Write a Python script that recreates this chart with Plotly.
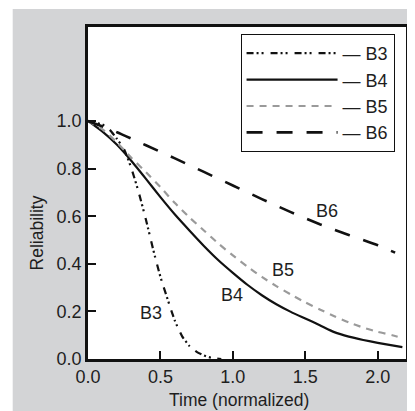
import plotly.graph_objects as go

# ---- data ----
b3_x = [0.0, 0.1, 0.15, 0.2, 0.25, 0.3, 0.35, 0.4, 0.45, 0.5, 0.55, 0.6, 0.65, 0.7, 0.75, 0.8, 0.85, 0.92]
b3_y = [1.0, 0.985, 0.963, 0.925, 0.88, 0.80, 0.70, 0.585, 0.46, 0.345, 0.25, 0.16, 0.095, 0.055, 0.03, 0.015, 0.005, 0.0]

b4_x = [0.0, 0.1, 0.2, 0.3, 0.4, 0.5, 0.6, 0.7, 0.8, 0.9, 1.0, 1.1, 1.2, 1.3, 1.4, 1.5, 1.6, 1.7, 1.8, 1.9, 2.0, 2.1, 2.17]
b4_y = [1.0, 0.955, 0.9, 0.832, 0.757, 0.68, 0.607, 0.54, 0.475, 0.415, 0.362, 0.312, 0.268, 0.23, 0.198, 0.17, 0.142, 0.113, 0.094, 0.08, 0.068, 0.057, 0.05]

b5_x = [0.0, 0.1, 0.2, 0.3, 0.4, 0.5, 0.6, 0.7, 0.8, 0.9, 1.0, 1.1, 1.2, 1.3, 1.4, 1.5, 1.6, 1.7, 1.8, 1.9, 2.0, 2.1, 2.17]
b5_y = [1.0, 0.965, 0.91, 0.845, 0.785, 0.722, 0.655, 0.595, 0.54, 0.485, 0.435, 0.388, 0.345, 0.306, 0.271, 0.238, 0.208, 0.18, 0.154, 0.132, 0.114, 0.1, 0.088]

b6_x = [0.0, 0.2, 0.4, 0.6, 0.8, 1.0, 1.2, 1.4, 1.6, 1.8, 2.0, 2.12]
b6_y = [1.0, 0.953, 0.898, 0.843, 0.786, 0.729, 0.672, 0.617, 0.566, 0.521, 0.478, 0.447]

series_names = ["B3", "B4", "B5", "B6"]
label_x = [0.432, 0.992, 1.348, 1.652]
label_y = [0.195, 0.271, 0.376, 0.622]

x_ticks = [0.0, 0.5, 1.0, 1.5, 2.0]
y_ticks = [0.0, 0.2, 0.4, 0.6, 0.8, 1.0]

FONT = "Liberation Sans, Arial, sans-serif"
TXT = "#1e1e1e"
BG = "#d3d4d6"

fig = go.Figure()
styles = [
    dict(color="#111111", width=2.2, dash="7px,3px,2px,3px,2px,7px"),
    dict(color="#111111", width=2.2, dash="solid"),
    dict(color="#9a9a9a", width=2.2, dash="7px,6px"),
    dict(color="#111111", width=2.6, dash="16px,14px"),
]
data = [(b3_x, b3_y), (b4_x, b4_y), (b5_x, b5_y), (b6_x, b6_y)]
for name, (xs, ys), st in zip(series_names, data, styles):
    fig.add_trace(go.Scatter(x=xs, y=ys, mode="lines", name="\u2014 " + name,
                             line=dict(shape="spline", smoothing=0.5, **st)))

for name, lx, ly in zip(series_names, label_x, label_y):
    fig.add_annotation(x=lx, y=ly, text=name, showarrow=False,
                       xanchor="center", yanchor="middle",
                       font=dict(family=FONT, size=18, color=TXT))

# axis titles
fig.add_annotation(xref="paper", yref="paper", x=0.4735, y=-0.123, text="Time (normalized)",
                   xanchor="center", yanchor="middle",
                   showarrow=False, font=dict(family=FONT, size=17.5, color=TXT))
fig.add_annotation(xref="paper", yref="paper", x=-0.159, y=0.3795, text="Reliability",
                   xanchor="center", yanchor="middle",
                   textangle=-90, showarrow=False, font=dict(family=FONT, size=17.5, color=TXT))

# white strips outside the gray panel
fig.add_shape(type="rect", xref="paper", yref="paper", x0=-0.3, x1=1.1, y0=(351 - 1) / 332, y1=1.2,
              fillcolor="white", line=dict(width=0))
fig.add_shape(type="rect", xref="paper", yref="paper", x0=-0.3, x1=(4 - 80) / 321, y0=-0.3, y1=1.2,
              fillcolor="white", line=dict(width=0))

axis_common = dict(showgrid=False, zeroline=False, showline=True, mirror=True,
                   linecolor="#111111", linewidth=2.5, ticks="inside", ticklen=8,
                   tickwidth=1.5, tickcolor="#111111",
                   tickfont=dict(family=FONT, size=18, color=TXT))

fig.update_layout(
    width=407, height=403,
    margin=dict(l=80, r=6, t=19, b=52),
    paper_bgcolor=BG, plot_bgcolor="white",
    showlegend=True,
    legend=dict(x=(242 - 88) / 321, y=(359 - 34) / 332, xanchor="left", yanchor="top",
                bgcolor="white", bordercolor="#111111", borderwidth=1,
                font=dict(family=FONT, size=18, color=TXT), itemwidth=91,
                tracegroupgap=0),
    xaxis=dict(range=[0, 2.195], tickvals=x_ticks, tickformat=".1f", **axis_common),
    yaxis=dict(range=[0, 1.395], tickvals=y_ticks, tickformat=".1f", **axis_common),
)

fig.write_html("out.html")
